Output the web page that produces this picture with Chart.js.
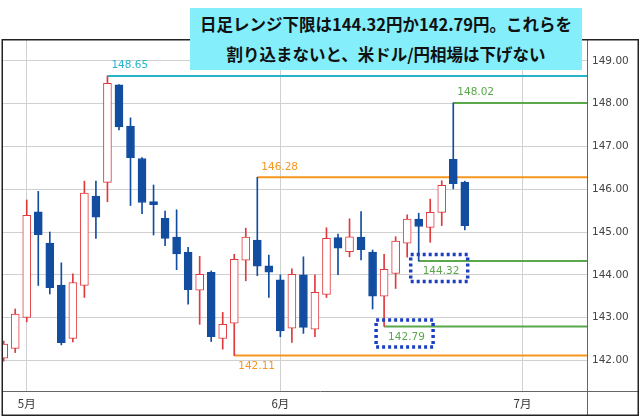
<!DOCTYPE html>
<html><head><meta charset="utf-8">
<script src="https://cdn.jsdelivr.net/npm/chart.js@4.4.1/dist/chart.umd.min.js"></script>
<style>
html,body{margin:0;padding:0;background:#fff;}
#wrap{position:relative;width:640px;height:417px;overflow:hidden;}
#title{position:absolute;left:190px;top:8px;width:392px;height:62px;background:#84eefb;font:bold 16.5px "Noto Sans CJK JP",sans-serif;color:#111;text-align:center;line-height:30px;padding-top:1px;box-sizing:border-box;white-space:nowrap;}
</style></head><body>
<div id="wrap"><canvas id="c" width="640" height="417"></canvas>
<div id="title">日足レンジ下限は144.32円か142.79円。これらを<br>割り込まないと、米ドル/円相場は下げない</div></div>
<script>
// trading days (axis categories), incl. future days to the right edge
const dates = ['4/29','4/30','5/1','5/2','5/5','5/6','5/7','5/8','5/9','5/12','5/13','5/14','5/15','5/16','5/19','5/20','5/21','5/22','5/23','5/26','5/27','5/28','5/29','5/30','6/2','6/3','6/4','6/5','6/6','6/9','6/10','6/11','6/12','6/13','6/16','6/17','6/18','6/19','6/20','6/23','6/24','6/25','6/26','6/27','6/30','7/1','7/2','7/3','7/4','7/7','7/8'];
const openV  = [142.05,142.28,143.00,145.47,144.74,143.76,142.51,143.75,145.84,146.16,148.44,147.48,146.72,145.71,145.32,144.88,144.53,143.64,144.06,142.51,142.87,144.34,144.81,144.21,143.88,142.75,144.00,142.73,143.54,144.87,144.54,144.88,144.53,143.50,144.03,144.74,145.30,145.11,145.46,146.70,146.17];
const highV  = [142.45,143.20,145.75,145.95,145.00,144.28,144.02,146.19,146.19,148.65,148.45,147.67,146.74,146.10,145.49,145.52,144.64,144.43,144.09,143.12,144.48,145.09,146.28,144.46,144.00,144.14,144.42,144.00,145.10,144.95,145.31,145.48,144.58,144.48,144.89,145.40,145.44,145.77,146.20,148.02,146.19];
const lowV   = [141.98,142.18,142.90,143.75,143.55,142.36,142.43,143.47,144.85,145.71,147.39,145.62,145.43,144.93,144.68,144.12,143.31,142.84,142.44,142.26,142.11,143.86,143.98,143.47,142.55,142.42,142.63,142.55,143.47,144.00,144.42,144.35,143.20,142.79,143.68,144.41,144.32,144.76,145.15,146.01,145.05];
const closeV = [142.38,143.08,145.39,144.94,143.70,142.41,143.82,145.91,145.35,148.48,147.46,146.74,145.69,145.64,144.85,144.49,143.65,144.01,142.55,142.84,144.36,144.88,144.20,144.06,142.69,144.01,142.77,143.59,144.85,144.62,144.89,144.59,143.50,144.13,144.79,145.30,145.13,145.46,146.09,146.13,145.15];
const yTicks = [142,143,144,145,146,147,148,149];
const monthTickDates  = ['5/1','6/2','7/1'];
const monthTickLabels = ['5月','6月','7月'];
const levelValues     = [148.65,146.28,142.11,148.02,144.32,142.79];
const levelStartDates = ['5/12','5/29','5/27','6/23','6/18','6/13'];
const boxedLevels     = [144.32,142.79];

const idx = d => dates.indexOf(d);
const RED = '#e03a3e', BLUE = '#134da0';
const X_MIN = -0.06, X_MAX = dates.length - 1 + 0.6;
const levelStyle = [
  {color:'#27b4c9', above:true},
  {color:'#f5961e', above:true},
  {color:'#f5961e', above:false},
  {color:'#5aa84b', above:true},
  {color:'#5aa84b', above:false},
  {color:'#5aa84b', above:false}
];
const isUp = openV.map((o,i)=> closeV[i] >= o);
const wickData = openV.map((o,i)=>({x:i, y:[lowV[i], highV[i]]}));
const bodyData = openV.map((o,i)=>({x:i, y:[o, closeV[i]]}));

const levelDatasets = levelValues.map((v,k)=>({
  type:'line',
  data:[{x:idx(levelStartDates[k]), y:v},{x:X_MAX, y:v}],
  borderColor: levelStyle[k].color, borderWidth:2, pointRadius:0, fill:false, order:3
}));

const LABEL_FONT = '10.5px "DejaVu Sans"';

const overlayPlugin = {
  id:'overlay',
  afterDatasetsDraw(chart){
    const {ctx, scales:{x,y}} = chart;
    ctx.save();
    ctx.font = LABEL_FONT;
    ctx.textBaseline = 'middle';
    ctx.textAlign = 'left';
    levelValues.forEach((v,k)=>{
      const px = x.getPixelForValue(idx(levelStartDates[k]));
      const py = y.getPixelForValue(v);
      ctx.fillStyle = levelStyle[k].color;
      ctx.fillText(v.toFixed(2), px + 4, py + (levelStyle[k].above ? -10.5 : 10.5));
    });
    // dotted highlight boxes
    ctx.strokeStyle = '#1b3fc2';
    ctx.lineWidth = 3.5;
    ctx.setLineDash([3,3]);
    boxedLevels.forEach(v=>{
      const k = levelValues.indexOf(v);
      const px = x.getPixelForValue(idx(levelStartDates[k]));
      const py = y.getPixelForValue(v);
      ctx.strokeRect(px - 8, py - 6.5, 57, 27);
    });
    ctx.restore();
  },
  afterDraw(chart){
    const {ctx, chartArea:a} = chart;
    ctx.save();
    ctx.strokeStyle = '#666';
    ctx.lineWidth = 1;
    ctx.beginPath();
    ctx.moveTo(Math.round(a.right)+0.5, a.top); ctx.lineTo(Math.round(a.right)+0.5, 415);
    ctx.moveTo(a.left, Math.round(a.bottom)+0.5); ctx.lineTo(638, Math.round(a.bottom)+0.5);
    ctx.stroke();
    ctx.strokeStyle = '#222';
    ctx.lineWidth = 1.5;
    ctx.strokeRect(2.25, 39.75, 636, 375.5);
    ctx.restore();
  }
};

new Chart(document.getElementById('c'), {
  type:'bar',
  data:{
    datasets:[
      {label:'body', data:bodyData, barThickness:8, grouped:false, borderSkipped:false, borderWidth:1,
       backgroundColor: isUp.map(u=> u ? '#ffffff' : BLUE),
       borderColor: isUp.map(u=> u ? RED : BLUE), order:1},
      {label:'wick', data:wickData, barThickness:1, grouped:false, borderSkipped:false, borderWidth:0,
       backgroundColor: isUp.map(u=> u ? RED : BLUE), order:2},
      ...levelDatasets
    ]
  },
  options:{
    responsive:false, animation:false, devicePixelRatio:1,
    layout:{padding:{left:3, right:1, top:40, bottom:2}},
    plugins:{legend:{display:false}, tooltip:{enabled:false}},
    scales:{
      x:{type:'linear', min:X_MIN, max:X_MAX, offset:false,
         grid:{offset:false, color:'#d0d0d0', drawTicks:false},
         border:{display:false},
         afterBuildTicks(s){ s.ticks = monthTickDates.map(d=>({value:idx(d)})); },
         afterFit(s){ s.height = 24; },
         ticks:{autoSkip:false, maxRotation:0, padding:6, color:'#333',
                font:{family:'"Noto Sans CJK JP"', size:11.5},
                callback:(v)=> monthTickLabels[monthTickDates.map(idx).indexOf(v)] }
      },
      y:{type:'linear', position:'right', min:141.282, max:149.491,
         grid:{color:'#d0d0d0', drawTicks:false},
         border:{display:false},
         afterBuildTicks(s){ s.ticks = yTicks.map(v=>({value:v})); },
         afterFit(s){ s.width = 52; },
         ticks:{padding:5, color:'#444', font:{family:'"DejaVu Sans"', size:10.5},
                callback:(v)=> Number(v).toFixed(2)}
      }
    }
  },
  plugins:[overlayPlugin]
});
</script>
</body></html>
